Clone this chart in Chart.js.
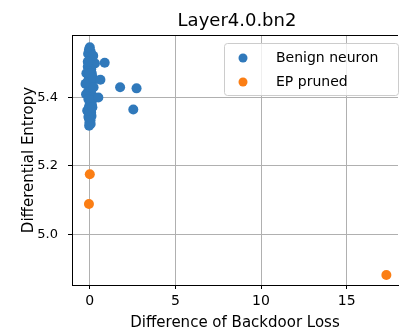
<!DOCTYPE html>
<html>
<head>
<meta charset="utf-8">
<script src="https://cdn.jsdelivr.net/npm/chart.js@4/dist/chart.umd.min.js"></script>
<style>
  html, body { margin: 0; padding: 0; background: #fff; }
  #wrap { width: 403px; height: 332px; }
</style>
</head>
<body>
<div id="wrap"><canvas id="bnChart" width="403" height="332"></canvas></div>
<script>
'use strict';

const titleText = 'Layer4.0.bn2';
const xTitle = 'Difference of Backdoor Loss';
const yTitle = 'Differential Entropy';
const seriesLabels = ['Benign neuron', 'EP pruned'];
const seriesColors = ['#3079bb', '#fb7e14'];

const xTicks = [0, 5, 10, 15];
const yTicks = [5.0, 5.2, 5.4];

// benign neurons: tight column near zero plus a few outliers
const benignX = [0.00, -0.05, 0.05, -0.10, 0.02, 0.10, -0.08, 0.05, 0.30, -0.12, 0.08, -0.03,
  0.12, -0.20, 0.04, -0.06, 0.15, -0.25, 0.00, 0.10, -0.10, 0.06, -0.02, -0.22, 0.18,
  0.25, -0.08, 0.03, 0.12, -0.05, 0.08, -0.12, 0.02, 0.10, -0.06, 0.04, -0.02, 0.05,
  -0.04, 0.00, 0.03, -0.03, 0.08, -0.08, 0.06, -0.05,
  0.20, -0.15, 0.22, -0.15, 0.15, -0.12, 0.18,
  0.87, 0.62, 1.77, 2.73, 2.54, 0.50];
const benignY = [5.547, 5.540, 5.535, 5.528, 5.520, 5.512, 5.505, 5.498, 5.500, 5.490, 5.483, 5.476,
  5.470, 5.471, 5.462, 5.455, 5.448, 5.440, 5.433, 5.425, 5.418, 5.412, 5.405, 5.410, 5.404,
  5.398, 5.395, 5.388, 5.380, 5.373, 5.366, 5.360, 5.353, 5.346, 5.340, 5.334, 5.328, 5.323,
  5.318, 5.385, 5.430, 5.470, 5.356, 5.344, 5.392, 5.447,
  5.522, 5.445, 5.430, 5.362, 5.372, 5.505, 5.458,
  5.502, 5.452, 5.430, 5.427, 5.365, 5.400];

// pruned by EP
const prunedX = [0.00, -0.05, 17.32];
const prunedY = [5.176, 5.089, 4.881];

const FONT = 'DejaVu Sans';

const toPoints = (xs, ys) => xs.map((x, i) => ({ x, y: ys[i] }));

// title over the plot area, top frame line, and the inset legend
const decorations = {
  id: 'decorations',
  afterDraw(chart) {
    const { ctx, chartArea: a } = chart;
    ctx.save();

    ctx.strokeStyle = '#000';
    ctx.lineWidth = 1;
    ctx.beginPath();
    ctx.moveTo(a.left, a.top + 0.5);
    ctx.lineTo(a.right, a.top + 0.5);
    ctx.stroke();

    ctx.fillStyle = '#000';
    ctx.font = `18px "${FONT}"`;
    ctx.textAlign = 'center';
    ctx.textBaseline = 'middle';
    ctx.fillText(titleText, (a.left + a.right) / 2 + 2, 21);

    const bx = 224.5, by = 43.5, bw = 174, bh = 52;
    ctx.fillStyle = 'rgba(255,255,255,0.8)';
    ctx.strokeStyle = '#cccccc';
    ctx.beginPath();
    ctx.roundRect(bx, by, bw, bh, 3);
    ctx.fill();
    ctx.stroke();

    ctx.font = `14px "${FONT}"`;
    ctx.textAlign = 'left';
    chart.data.datasets.forEach((ds, i) => {
      const cy = 58 + i * 24;
      ctx.fillStyle = ds.backgroundColor;
      ctx.beginPath();
      ctx.arc(243, cy, 4.5, 0, Math.PI * 2);
      ctx.fill();
      ctx.fillStyle = '#000';
      ctx.fillText(ds.label, 276, cy);
    });
    ctx.restore();
  },
};

const axisCommon = {
  type: 'linear',
  border: { display: true, color: '#000', width: 1 },
  grid: { color: '#b0b0b0', lineWidth: 1, tickColor: '#000', tickLength: 4 },
};

new Chart(document.getElementById('bnChart'), {
  type: 'scatter',
  data: {
    datasets: [
      { label: seriesLabels[0], data: toPoints(benignX, benignY),
        backgroundColor: seriesColors[0], borderWidth: 0, pointRadius: 5 },
      { label: seriesLabels[1], data: toPoints(prunedX, prunedY),
        backgroundColor: seriesColors[1], borderWidth: 0, pointRadius: 5 },
    ],
  },
  options: {
    responsive: false,
    animation: false,
    layout: { padding: { top: 35, right: 0, left: 0, bottom: 0 } },
    plugins: { legend: { display: false }, title: { display: false }, tooltip: { enabled: false } },
    scales: {
      x: {
        ...axisCommon,
        min: -1.04, max: 18.0,
        afterBuildTicks: s => { s.ticks = xTicks.map(v => ({ value: v })); },
        afterFit: s => { s.height = 47; },
        ticks: { color: '#000', font: { family: FONT, size: 14 }, padding: 4, maxRotation: 0 },
        title: { display: true, text: xTitle, color: '#000', font: { family: FONT, size: 15 }, padding: { top: 0, bottom: 0 } },
      },
      y: {
        ...axisCommon,
        min: 4.852, max: 5.583,
        afterBuildTicks: s => { s.ticks = yTicks.map(v => ({ value: v })); },
        afterFit: s => { s.width = 72; },
        ticks: { color: '#000', font: { family: FONT, size: 13 }, padding: 10, callback: v => v.toFixed(1) },
        title: { display: true, text: yTitle, color: '#000', font: { family: FONT, size: 15 }, padding: { top: 20, bottom: 0 } },
      },
    },
  },
  plugins: [decorations],
});
</script>
</body>
</html>
